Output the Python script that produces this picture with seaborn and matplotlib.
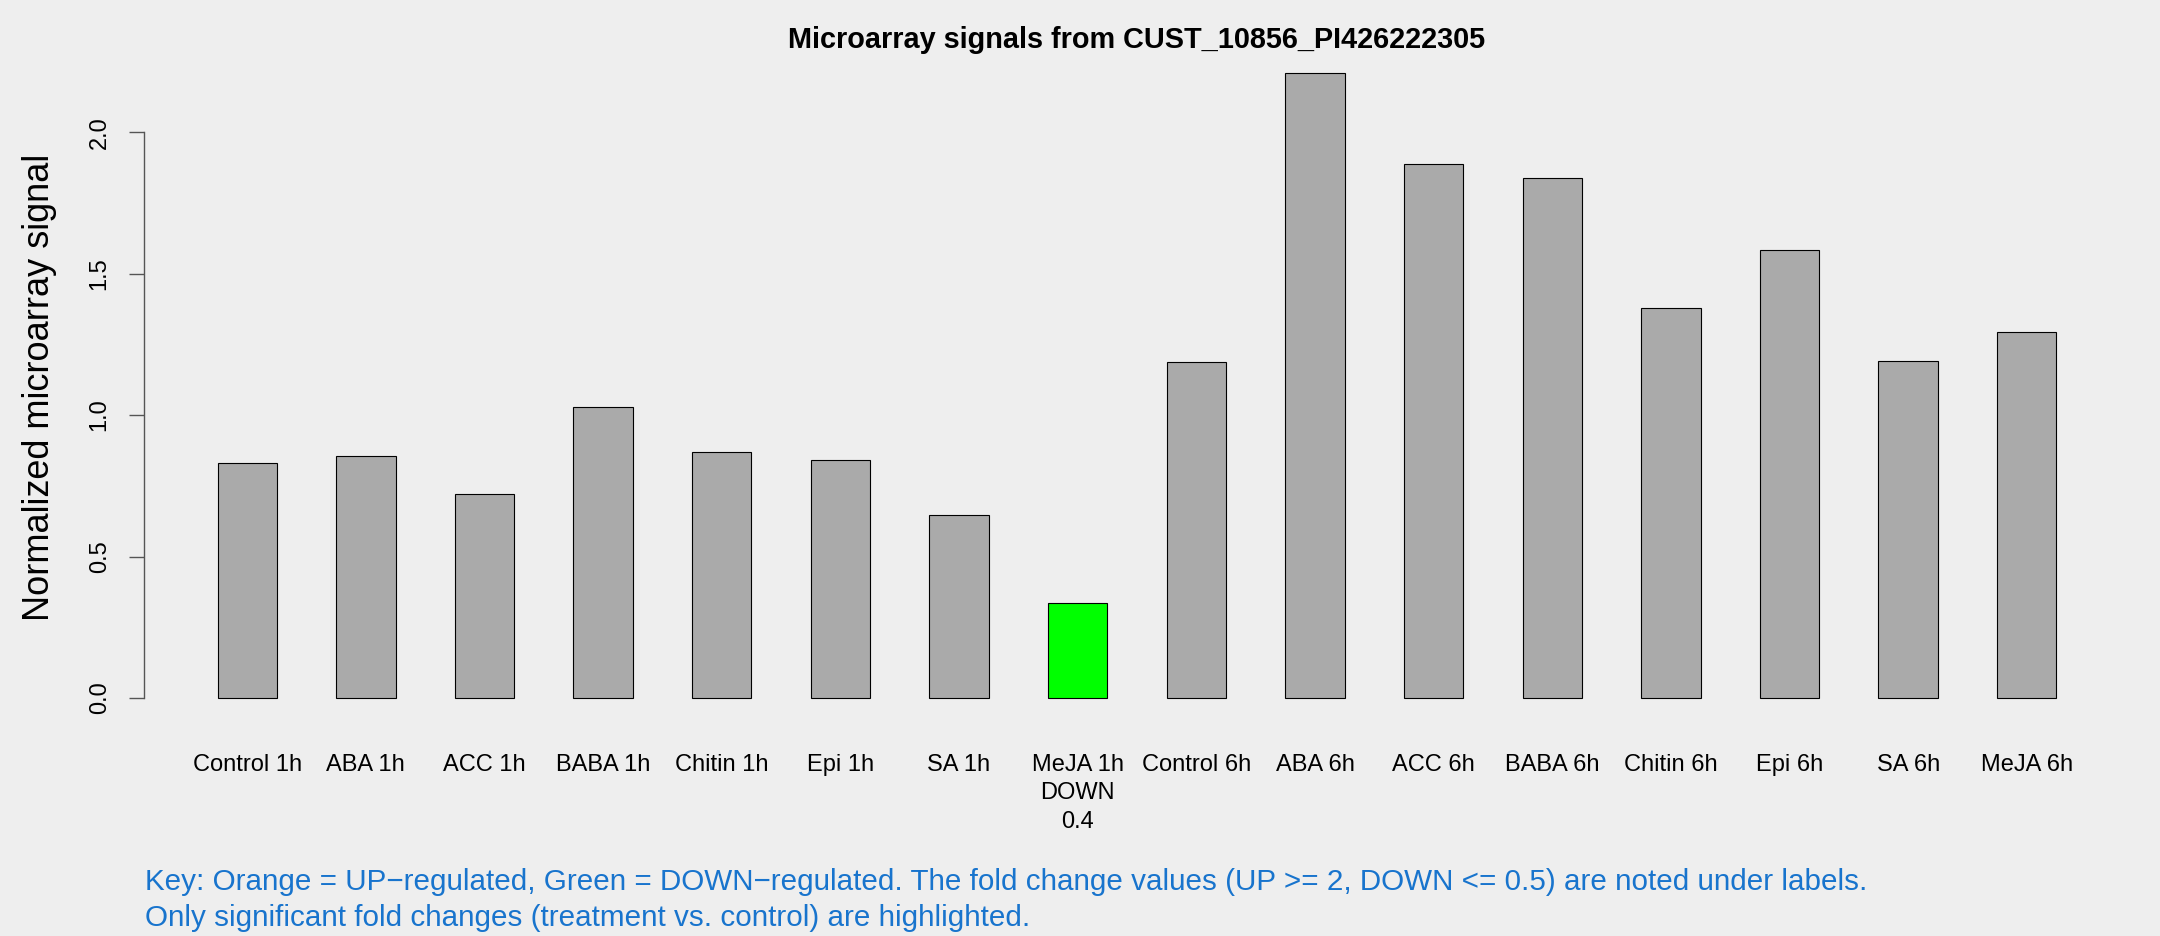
import matplotlib
matplotlib.use("Agg")
import matplotlib.pyplot as plt
import seaborn as sns
import pandas as pd

categories = ["Control 1h", "ABA 1h", "ACC 1h", "BABA 1h", "Chitin 1h", "Epi 1h", "SA 1h",
              "MeJA 1h", "Control 6h", "ABA 6h", "ACC 6h", "BABA 6h", "Chitin 6h", "Epi 6h",
              "SA 6h", "MeJA 6h"]
values = [0.832, 0.856, 0.720, 1.027, 0.871, 0.842, 0.647, 0.336,
          1.187, 2.209, 1.888, 1.839, 1.377, 1.582, 1.192, 1.294]
regulation = ["", "", "", "", "", "", "", "DOWN", "", "", "", "", "", "", "", ""]
fold_change = ["", "", "", "", "", "", "", "0.4", "", "", "", "", "", "", "", ""]
title = "Microarray signals from CUST_10856_PI426222305"
ylabel = "Normalized microarray signal"
yticks = [0.0, 0.5, 1.0, 1.5, 2.0]
key_lines = ["Key: Orange = UP\u2212regulated, Green = DOWN\u2212regulated. The fold change values (UP >= 2, DOWN <= 0.5) are noted under labels.",
             "Only significant fold changes (treatment vs. control) are highlighted."]

BG = "#EEEEEE"
sns.set_theme(style="white", rc={"figure.facecolor": BG, "axes.facecolor": BG,
                                 "text.color": "black", "xtick.color": "black",
                                 "ytick.color": "black"})
plt.rcParams["font.family"] = ["Liberation Sans", "DejaVu Sans"]

colors = []
for r in regulation:
    if r == "DOWN":
        colors.append("#00FF00")
    elif r == "UP":
        colors.append("#FFA500")
    else:
        colors.append("#AAAAAA")

df = pd.DataFrame({"cat": categories, "val": values})

fig = plt.figure(figsize=(21.6, 9.36), dpi=100)
ax = fig.add_axes([144 / 2160, 1 - 723 / 936, (2130 - 144) / 2160, (723 - 48) / 936])

sns.barplot(data=df, x="cat", y="val", hue="cat", palette=colors, legend=False,
            width=0.5, edgecolor="black", linewidth=0.8, saturation=1, ax=ax)

ax.set_xlim(-0.87, len(categories) - 1 + 0.87)
ax.set_ylim(-0.04 * max(values), max(values) * 1.04)

labels = []
for c, r, f in zip(categories, regulation, fold_change):
    s = c
    if r:
        s += "\n" + r
    if f:
        s += "\n" + f
    labels.append(s)
ax.set_xticks(range(len(categories)))
ax.set_xticklabels(labels, fontsize=17, linespacing=1.4, va="top")
ax.tick_params(axis="x", length=0, pad=22)

ax.set_yticks(yticks)
ax.set_yticklabels([f"{t:.1f}" for t in yticks], rotation=90, va="center", fontsize=17)
ax.tick_params(axis="y", length=11, width=1, color="#555555", pad=13, left=True)

for s in ["top", "right", "bottom"]:
    ax.spines[s].set_visible(False)
ax.spines["left"].set_bounds(0, 2)
ax.spines["left"].set_color("#555555")
ax.spines["left"].set_linewidth(1)

ax.set_xlabel("")
ax.set_ylabel("")
fig.text(40 / 2160, 1 - 387 / 936, ylabel, rotation=90, fontsize=26, ha="center", va="center")
fig.text((144 + 2130) / 2 / 2160, 1 - 40 / 936, title, fontsize=20.8, fontweight="bold",
         ha="center", va="center")

fig.text(145 / 2160, 1 - 882 / 936, key_lines[0], fontsize=21.3, color="#1874CD", ha="left", va="center")
fig.text(145 / 2160, 1 - 918 / 936, key_lines[1], fontsize=21.3, color="#1874CD", ha="left", va="center")

fig.savefig("out.png", dpi=100, facecolor=BG)
